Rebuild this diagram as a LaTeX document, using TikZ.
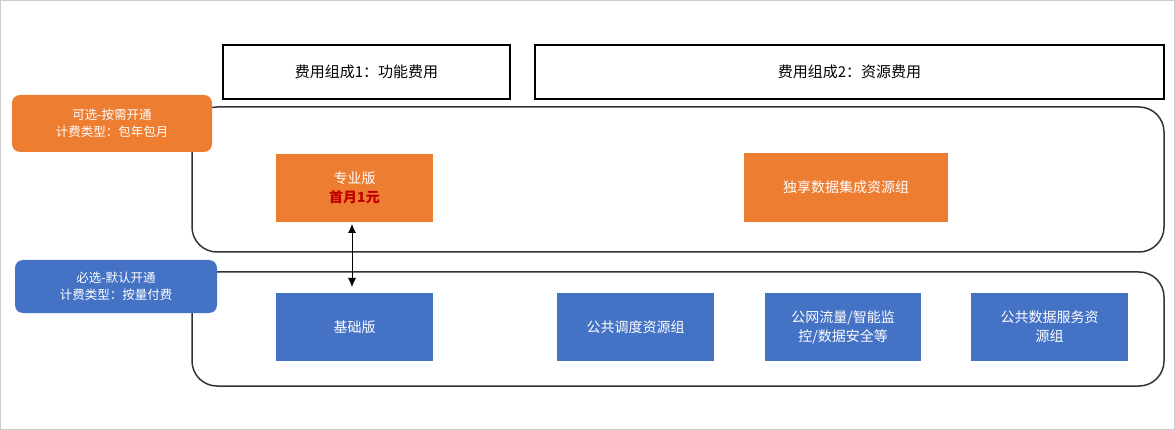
\documentclass[tikz,border=0pt]{standalone}
\usepackage{fontspec}
\setmainfont{Noto Sans CJK SC}
\usetikzlibrary{arrows.meta}
\definecolor{orangefill}{HTML}{ED7D31}
\definecolor{bluefill}{HTML}{4472C4}
\definecolor{pricered}{HTML}{C00000}
\tikzset{
  head/.style = {draw, line width=1.5pt, font=\fontsize{15}{18}\selectfont},
  group/.style = {draw=black!80, line width=1.5pt, rounded corners=25pt},
  tag/.style = {rounded corners=8pt, text=white, align=center, font=\fontsize{12.5}{17}\selectfont},
  item/.style = {text=white, align=center, font=\fontsize{14}{19}\selectfont}
}
\begin{document}
\begin{tikzpicture}[x=1pt, y=-1pt]
  \draw[black!20, line width=1pt] (0.5,0.5) rectangle (1174.5,429.5);
  \useasboundingbox (0,0) rectangle (1175,430);
  % fee headers
  \draw[head] (223,45) rectangle node (h1) {费用组成1：功能费用} (510,99);
  \draw[head] (535,45) rectangle node (h2) {费用组成2：资源费用} (1164,99);
  % group frames
  \draw[group] (192,107) rectangle (1164,252);
  \draw[group] (192,272) rectangle (1164,386);
  % tags
  \fill[orangefill, tag] (12,95) rectangle node[tag] (opt) {可选-按需开通\\计费类型：包年包月} (212,152);
  \fill[bluefill, tag] (15,260) rectangle node[tag] (req) {必选-默认开通\\计费类型：按量付费} (217,313);
  % items
  \fill[orangefill] (276,154) rectangle node[item] (pro) {专业版\\{\color{pricered}\bfseries 首月1元}} (433,222);
  \fill[orangefill] (744,153) rectangle node[item] (excl) {独享数据集成资源组} (948,222);
  \fill[bluefill] (276,293) rectangle node[item] (basic) {基础版} (433,361);
  \fill[bluefill] (557,293) rectangle node[item] (sched) {公共调度资源组} (714,361);
  \fill[bluefill] (765,293) rectangle node[item] (net) {公网流量/智能监\\控/数据安全等} (921,361);
  \fill[bluefill] (971,293) rectangle node[item] (dsvc) {公共数据服务资\\源组} (1128,361);
  % upgrade link
  \coordinate (protop) at (352,224);
  \coordinate (basictop) at (352,287);
  \draw[{Latex[length=9pt,width=8pt]}-{Latex[length=9pt,width=8pt]}, line width=0.8pt] (protop) -- (basictop);
\end{tikzpicture}
\end{document}
